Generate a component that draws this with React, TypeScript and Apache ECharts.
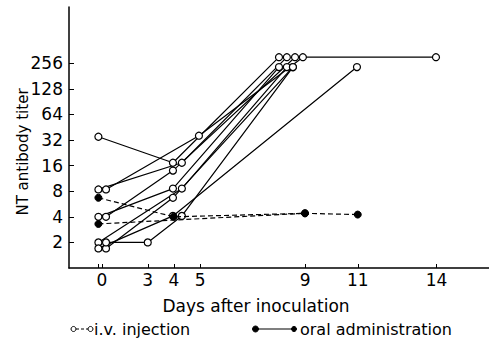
import React, { useEffect, useRef } from "react";
import * as echarts from "echarts";

// x tick labels (days) and where they sit on the (broken) day axis
const dayLabels = ["0", "3", "4", "5", "9", "11", "14"];
const dayLabelPos = [1.25, 3, 4, 5, 9, 11, 14];
const dayTickPos = [1.12, 1.25, 3, 4, 5, 9, 11, 14];
// y tick labels (titers, log2 scale)
const titerTicks = [2, 4, 8, 16, 32, 64, 128, 256];

// i.v. injection animals (open circles, solid lines): x positions on the day axis, titers
const ivX: number[][] = [
  [1.12, 3.96, 8.0],
  [1.41, 4.95, 8.91, 13.98],
  [1.12, 4.3, 8.3],
  [1.41, 3.96, 8.61],
  [1.12, 3.96, 8.0],
  [1.12, 4.3, 8.3],
  [1.41, 3.96, 8.53],
  [1.41, 3.0, 4.3, 8.53],
  [1.12, 3.96, 10.97],
];
const ivTiter: number[][] = [
  [35, 17.3, 302],
  [8.4, 36, 302, 302],
  [8.4, 17.3, 302],
  [4, 14, 302],
  [4, 8.6, 231],
  [2, 8.6, 231],
  [1.7, 6.7, 231],
  [2, 2, 4.1, 231],
  [1.7, 4.1, 231],
];

// oral administration animals (filled circles, dashed lines)
const oralX: number[][] = [
  [1.12, 3.99, 8.99, 11.0],
  [1.12, 8.99],
];
const oralTiter: number[][] = [
  [6.7, 4.0, 4.4, 4.25],
  [3.3, 4.4],
];

const FONT = "DejaVu Sans";

export default function App() {
  const ref = useRef<HTMLDivElement>(null);
  useEffect(() => {
    if (!ref.current) return;
    const chart = echarts.init(ref.current, null, { renderer: "svg" });
    const series: any[] = [];
    ivX.forEach((xs, k) => {
      series.push({
        type: "line",
        data: xs.map((x, i) => [x, Math.log2(ivTiter[k][i])]),
        symbol: "circle",
        symbolSize: 7,
        showAllSymbol: true,
        itemStyle: { color: "#fff", borderColor: "#000", borderWidth: 1.2 },
        lineStyle: { color: "#000", width: 1.2 },
        z: 2,
      });
    });
    oralX.forEach((xs, k) => {
      series.push({
        type: "line",
        data: xs.map((x, i) => [x, Math.log2(oralTiter[k][i])]),
        symbol: "circle",
        symbolSize: 7,
        showAllSymbol: true,
        itemStyle: { color: "#000", borderColor: "#000", borderWidth: 1 },
        lineStyle: { color: "#000", width: 1.2, type: [5, 3] },
        z: 3,
      });
    });
    chart.setOption({
      animation: false,
      backgroundColor: "#fff",
      grid: { left: 69, right: 0, top: 7, bottom: 73, containLabel: false },
      xAxis: {
        type: "value",
        min: 0,
        max: 16,
        splitLine: { show: false },
        axisLine: { show: true, lineStyle: { color: "#000", width: 1.5 } },
        axisTick: {
          show: true,
          inside: true,
          length: 4,
          customValues: dayTickPos,
          lineStyle: { color: "#000", width: 1 },
        },
        axisLabel: {
          show: true,
          customValues: dayLabelPos,
          formatter: (v: number) => {
            const i = dayLabelPos.findIndex((p) => Math.abs(p - v) < 1e-6);
            return i >= 0 ? dayLabels[i] : "";
          },
          color: "#000",
          fontSize: 17,
          fontFamily: FONT,
          margin: 3,
        },
      },
      yAxis: {
        type: "value",
        min: 0,
        max: 10.2,
        splitLine: { show: false },
        axisLine: { show: true, lineStyle: { color: "#000", width: 1.5 } },
        axisTick: {
          show: true,
          inside: true,
          length: 5,
          customValues: titerTicks.map((t) => Math.log2(t)),
          lineStyle: { color: "#000", width: 1 },
        },
        axisLabel: {
          show: true,
          customValues: titerTicks.map((t) => Math.log2(t)),
          formatter: (v: number) => String(Math.round(Math.pow(2, v))),
          color: "#000",
          fontSize: 17,
          fontFamily: FONT,
          margin: 6,
        },
      },
      graphic: [
        {
          type: "text",
          x: 256,
          y: 306,
          style: {
            text: "Days after inoculation",
            fontSize: 17,
            fontFamily: FONT,
            fill: "#000",
            textAlign: "center",
            textVerticalAlign: "middle",
          },
        },
        {
          type: "text",
          x: 23,
          y: 152,
          rotation: Math.PI / 2,
          style: {
            text: "NT antibody titer",
            fontSize: 15,
            fontFamily: FONT,
            fill: "#000",
            textAlign: "center",
            textVerticalAlign: "middle",
          },
        },
        // legend: i.v. injection
        {
          type: "line",
          shape: { x1: 76, y1: 329, x2: 88, y2: 329 },
          style: { stroke: "#000", lineWidth: 1, lineDash: [3, 2] },
        },
        {
          type: "circle",
          shape: { cx: 73.5, cy: 329, r: 2.5 },
          style: { fill: "#fff", stroke: "#000", lineWidth: 1 },
        },
        {
          type: "circle",
          shape: { cx: 90.5, cy: 329, r: 2.5 },
          style: { fill: "#fff", stroke: "#000", lineWidth: 1 },
        },
        {
          type: "text",
          x: 94,
          y: 329,
          style: {
            text: "i.v. injection",
            fontSize: 16,
            fontFamily: FONT,
            fill: "#000",
            textAlign: "left",
            textVerticalAlign: "middle",
          },
        },
        // legend: oral administration
        {
          type: "line",
          shape: { x1: 256, y1: 329, x2: 292, y2: 329 },
          style: { stroke: "#000", lineWidth: 1.2 },
        },
        {
          type: "circle",
          shape: { cx: 255.5, cy: 329, r: 3 },
          style: { fill: "#000", stroke: "#000", lineWidth: 1 },
        },
        {
          type: "circle",
          shape: { cx: 294, cy: 329, r: 2.5 },
          style: { fill: "#000", stroke: "#000", lineWidth: 1 },
        },
        {
          type: "text",
          x: 300,
          y: 329,
          style: {
            text: "oral administration",
            fontSize: 16,
            fontFamily: FONT,
            fill: "#000",
            textAlign: "left",
            textVerticalAlign: "middle",
          },
        },
      ],
      series,
    });
    return () => chart.dispose();
  }, []);
  return (
    <div
      ref={ref}
      style={{ position: "fixed", left: 0, top: 0, width: 489, height: 341, background: "#fff" }}
    />
  );
}
